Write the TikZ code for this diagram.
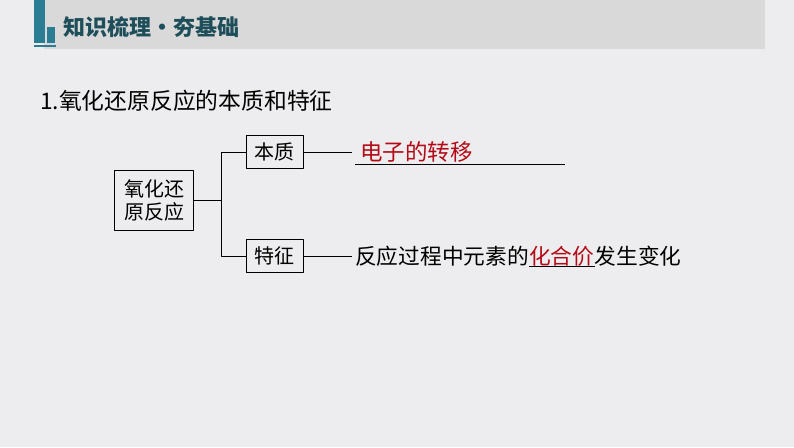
\documentclass[tikz,border=0pt]{standalone}
\usepackage{fontspec}
\setmainfont{Noto Sans CJK SC}
\usetikzlibrary{positioning}
\definecolor{bgpaper}{HTML}{EDEDEF}
\definecolor{bandgray}{HTML}{D9D9D9}
\definecolor{tealbar}{HTML}{2A7D93}
\definecolor{tealtext}{HTML}{1E4E5A}
\definecolor{keyred}{HTML}{B40A16}
\tikzset{
	box/.style={draw, line width=0.8pt, inner sep=0pt, font=\fontsize{20}{23}\selectfont},
	link/.style={line width=0.8pt},
	plain/.style={inner sep=0pt, font=\fontsize{21.7}{24}\selectfont}
}
\begin{document}
\begin{tikzpicture}[x=1pt, y=-1pt, line join=round]
	% fond et bandeau
	\fill[bgpaper] (0,0) rectangle (794,447);
	\useasboundingbox (0,0) rectangle (794,447);
	\fill[bandgray] (44,0) rectangle (765,49);
	\fill[tealbar] (34,0) rectangle (45,43);
	\fill[tealbar] (47,27) rectangle (55,43);
	\fill[tealbar] (34,44.5) rectangle (56,46.5);
	\node[anchor=west, inner sep=0pt, text=tealtext, font=\fontsize{22}{24}\selectfont\bfseries] (head) at (63,27) {知识梳理•夯基础};
	\node[anchor=west, inner sep=0pt, font=\fontsize{22.8}{24}\selectfont] (title) at (40,101) {1.氧化还原反应的本质和特征};
	% boites
	\node[box, minimum width=79, minimum height=60, align=center] (redox) at (154,200) {氧化还\\原反应};
	\node[box, minimum width=57, minimum height=33] (ess) at (274.5,152) {本质};
	\node[box, minimum width=57, minimum height=33] (feat) at (274.5,256) {特征};
	\path
	(221,200) coordinate (fork)
	(352,152) coordinate (e1)
	(352,256) coordinate (f1)
	(355,164) coordinate (u1)
	(565,164) coordinate (u2)
	;
	\draw[link] (redox.east)--(fork);
	\draw[link] (fork)|-(ess.west) (fork)|-(feat.west);
	\draw[link] (ess.east)--(e1) (feat.east)--(f1);
	% textes
	\node[plain, anchor=west, text=keyred, font=\fontsize{22.5}{24}\selectfont] (elec) at (360,152) {电子的转移};
	\draw[line width=0.8pt] (u1)--(u2);
	\node[plain, anchor=west] (trait) at (355,256) {反应过程中元素的};
	\node[plain, right=0pt of trait, text=keyred] (val) {化合价};
	\node[plain, right=0pt of val] (chg) {发生变化};
	\draw[line width=0.8pt] (val.south west)--(val.south east);
\end{tikzpicture}
\end{document}
